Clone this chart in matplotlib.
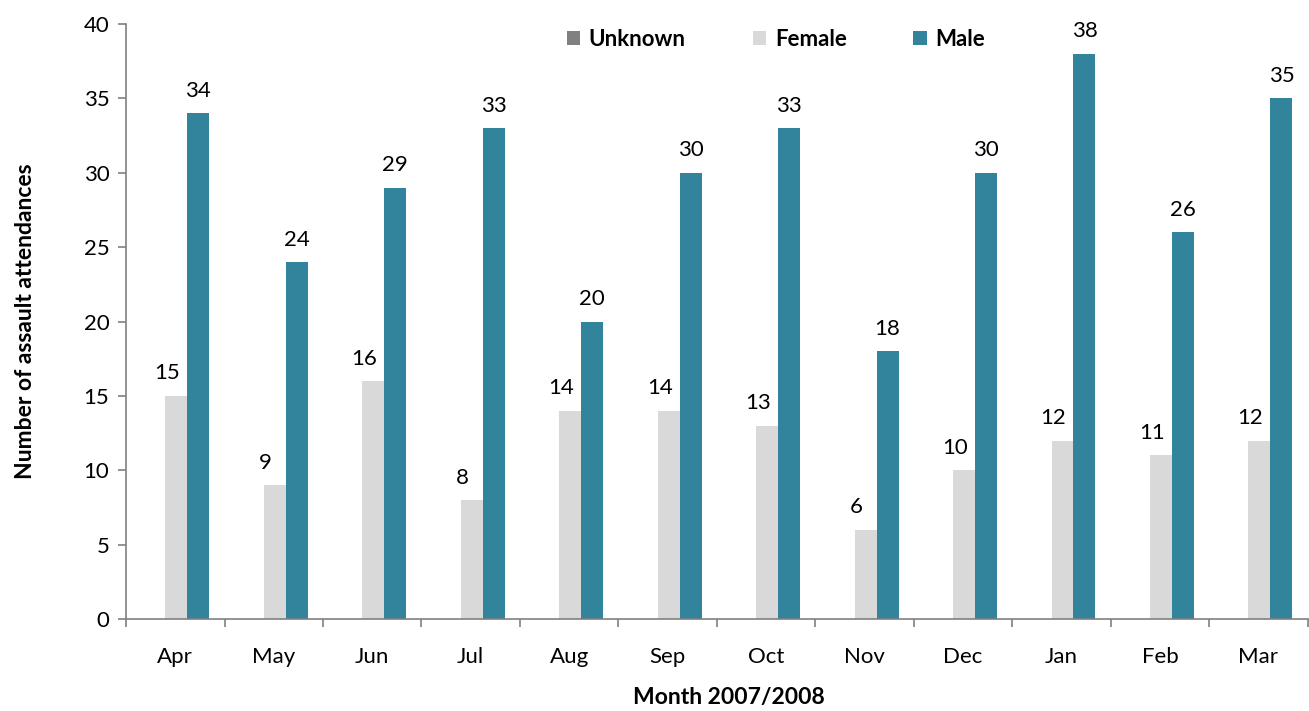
import numpy as np
import matplotlib.pyplot as plt

months = ['Apr', 'May', 'Jun', 'Jul', 'Aug', 'Sep', 'Oct', 'Nov', 'Dec', 'Jan', 'Feb', 'Mar']
unknown = [0, 0, 0, 0, 0, 0, 0, 0, 0, 0, 0, 0]
female = [15, 9, 16, 8, 14, 14, 13, 6, 10, 12, 11, 12]
male = [34, 24, 29, 33, 20, 30, 33, 18, 30, 38, 26, 35]

plt.rcParams['font.family'] = ['Lato', 'DejaVu Sans']

fig = plt.figure(figsize=(13.09, 7.11), dpi=100)
ax = fig.add_axes([0.0963, 0.1294, 0.9027, 0.8368])

x = np.arange(len(months))
w = 0.223
b_u = ax.bar(x - w + 0.01, unknown, w, color='#808080', label='Unknown')
b_f = ax.bar(x + 0.01, female, w, color='#D9D9D9', label='Female')
b_m = ax.bar(x + w + 0.01, male, w, color='#31849B', label='Male')

# Excel put the female labels a bit left of their bars
for bars, vals, dx in ((b_f, female, -6.5), (b_m, male, 0)):
    for b, v in zip(bars, vals):
        ax.annotate(str(v), xy=(b.get_x() + b.get_width() / 2, v), xytext=(dx, 9),
                    textcoords='offset points', ha='center', va='bottom', fontsize=16)

ax.set_xlim(-0.5, len(months) - 0.5)
ax.set_ylim(0, 40)
ax.set_yticks(range(0, 41, 5))
ax.set_xticks(x)
ax.set_xticklabels(months, fontsize=16)
ax.set_xticks(np.arange(-0.5, len(months)), minor=True)
ax.tick_params(axis='x', which='major', length=0, pad=20)
ax.tick_params(axis='x', which='minor', length=6, color='#808080', width=1.2)
ax.tick_params(axis='y', labelsize=16, length=6, color='#808080', width=1.2, pad=6)

for s in ('top', 'right'):
    ax.spines[s].set_visible(False)
for s in ('left', 'bottom'):
    ax.spines[s].set_color('#808080')
    ax.spines[s].set_linewidth(1.2)

ax.set_xlabel('Month 2007/2008', fontsize=16.5, fontweight='bold', labelpad=14)
ax.xaxis.set_label_coords(0.51, -0.115)
ax.set_ylabel('Number of assault attendances', fontsize=16.5, fontweight='bold', labelpad=34)

leg = ax.legend(loc='upper center', bbox_to_anchor=(0.55, 1.025), ncol=3, frameon=False,
                handlelength=0.6, handleheight=0.6, columnspacing=3.0, handletextpad=0.4,
                prop={'size': 16, 'weight': 'bold'})

fig.savefig('out.png', dpi=100)
